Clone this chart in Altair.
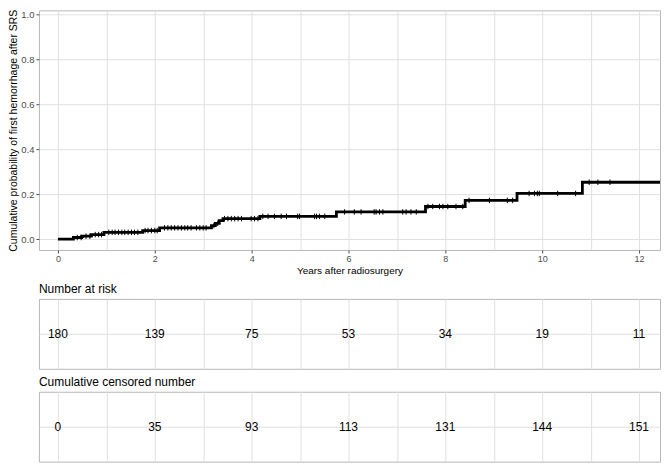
import altair as alt
import numpy as np
import pandas as pd

FONT = "Liberation Sans"

# Kaplan-Meier style cumulative incidence step function
step_times = [0, 0.32, 0.49, 0.69, 0.95, 1.75, 2.10, 3.17, 3.25, 3.33, 3.41,
              4.17, 5.75, 7.59, 8.41, 9.48, 10.83, 12.70]
step_probs = [0, 0.007, 0.013, 0.020, 0.030, 0.038, 0.050, 0.060, 0.070, 0.082,
              0.091, 0.101, 0.121, 0.145, 0.172, 0.203, 0.253, 0.253]

# censoring times (tick marks)
censor_times = [0.40, 0.48, 0.58, 0.66, 0.77, 0.84, 0.90, 1.05, 1.12, 1.18, 1.25,
                1.32, 1.38, 1.45, 1.52, 1.58, 1.65, 1.80, 1.86, 1.93, 2.00, 2.05,
                2.20, 2.27, 2.34, 2.41, 2.48, 2.55, 2.62, 2.68, 2.75, 2.86, 2.93,
                3.00, 3.06, 3.22, 3.30, 3.44, 3.51, 3.58, 3.65, 3.72, 3.79, 3.99,
                4.06, 4.13, 4.23, 4.34, 4.47, 4.61, 4.72, 4.95, 4.99, 5.30, 5.34,
                5.40, 5.51, 5.92, 6.12, 6.26, 6.53, 6.57, 6.64, 6.71, 7.12, 7.19,
                7.29, 7.40, 7.64, 7.74, 7.88, 7.95, 8.05, 8.22, 8.36, 8.49, 8.91,
                9.28, 9.39, 9.73, 9.84, 9.90, 9.94, 10.32, 10.69, 10.97, 11.15, 11.40]

table_years = [0, 2, 4, 6, 8, 10, 12]
at_risk = [180, 139, 75, 53, 34, 19, 11]
cum_censored = [0, 35, 93, 113, 131, 144, 151]

W = 622
X_MIN = -0.392
X_MAX = X_MIN + W / 48.5
Y_MIN, Y_MAX = -0.0485, 1.018

steps = pd.DataFrame({"t": step_times, "p": step_probs})
idx = np.searchsorted(step_times, censor_times, side="right") - 1
cens = pd.DataFrame({"t": censor_times, "p": np.array(step_probs)[idx]})

grid_color = "#e0e0e0"
xscale = alt.Scale(domain=[X_MIN, X_MAX], nice=False, zero=False)
yscale = alt.Scale(domain=[Y_MIN, Y_MAX], nice=False, zero=False)

tick_cond_x = {"condition": {"test": "datum.value % 2 == 0", "value": "#4d4d4d"},
               "value": "transparent"}
tick_cond_y = {"condition": {"test": "round(datum.value * 10) % 2 == 0", "value": "#4d4d4d"},
               "value": "transparent"}

x_axis = alt.Axis(
    title="Years after radiosurgery",
    values=list(range(0, 13)),
    labelExpr="datum.value % 2 == 0 ? datum.label : ''",
    tickColor=tick_cond_x, tickSize=3,
    grid=True, gridColor=grid_color, domain=False,
    labelFont=FONT, labelFontSize=9, labelColor="#4d4d4d", labelPadding=2,
    titleFont=FONT, titleFontSize=10, titleFontWeight="normal", titleColor="black",
    titlePadding=2,
)
y_axis = alt.Axis(
    title="Cumulative probability of first hemorrhage after SRS",
    values=[round(v * 0.1, 1) for v in range(0, 11)],
    format=".1f",
    labelExpr="round(datum.value * 10) % 2 == 0 ? datum.label : ''",
    tickColor=tick_cond_y, tickSize=3,
    grid=True, gridColor=grid_color, domain=False,
    labelFont=FONT, labelFontSize=9.5, labelColor="#4d4d4d", labelPadding=2,
    titleFont=FONT, titleFontSize=10.5, titleFontWeight="normal", titleColor="black",
    titlePadding=2,
)

line = alt.Chart(steps).mark_line(
    interpolate="step-after", color="black", strokeWidth=2.8, clip=True
).encode(
    x=alt.X("t:Q", scale=xscale, axis=x_axis),
    y=alt.Y("p:Q", scale=yscale, axis=y_axis),
)
marks = alt.Chart(cens).mark_point(
    shape="M-1,0L1,0M0,-1L0,1", size=30, color="black", strokeWidth=1,
    filled=False, opacity=1, clip=True
).encode(
    x=alt.X("t:Q", scale=xscale),
    y=alt.Y("p:Q", scale=yscale),
)
main = alt.layer(line, marks).properties(width=W, height=240)


def table(values, title):
    df = pd.DataFrame({"t": table_years, "n": values})
    return alt.Chart(df).mark_text(
        fontSize=12, font=FONT, color="black"
    ).encode(
        x=alt.X("t:Q", scale=xscale, axis=alt.Axis(
            values=list(range(0, 13)), labels=False, ticks=False, domain=False,
            title=None, grid=True, gridColor=grid_color)),
        y=alt.YDatum(0.5, type="quantitative", scale=alt.Scale(domain=[0, 1]),
                     axis=alt.Axis(values=[0.5], labels=False, ticks=False,
                                   domain=False, title=None, grid=True,
                                   gridColor=grid_color)),
        text="n:Q",
    ).properties(
        width=W, height=70,
        title=alt.TitleParams(text=title, anchor="start", fontSize=12, font=FONT,
                              fontWeight="normal", color="black", offset=3),
    )


risk = table(at_risk, "Number at risk")
cen = table(cum_censored, "Cumulative censored number")

chart = alt.vconcat(main, risk, cen, spacing=5).properties(
    padding=0
).configure_view(
    stroke="#b8b8b8", strokeWidth=1
)

chart.save("out.html", embed_options={"renderer": "svg", "actions": False})
